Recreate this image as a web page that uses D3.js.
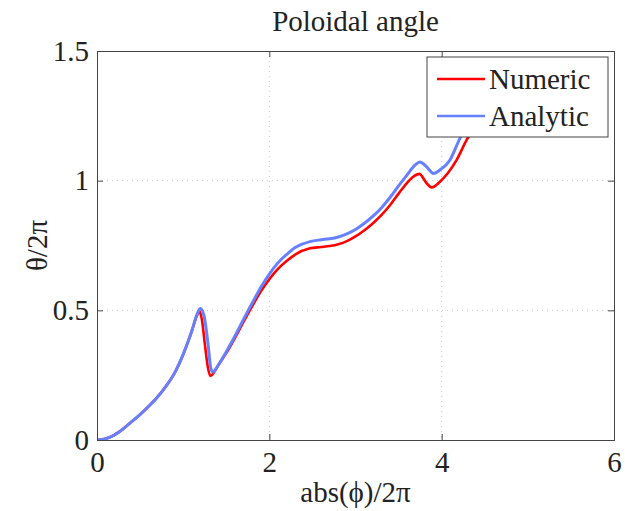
<!DOCTYPE html>
<html>
<head>
<meta charset="utf-8">
<script src="https://cdn.jsdelivr.net/npm/d3@7"></script>
<style>
body { margin: 0; background: #fff; }
</style>
</head>
<body>
<div id="chart"></div>
<script>
// values (x = abs(phi)/2pi, y = theta/2pi)
var numericX = [0, 0.1, 0.2, 0.3, 0.4, 0.5, 0.6, 0.7, 0.8, 0.9, 1.0, 1.1, 1.16, 1.19, 1.218, 1.253, 1.288, 1.317, 1.36, 1.42, 1.5, 1.6, 1.7, 1.8, 1.9, 2.0, 2.1, 2.2, 2.3, 2.472, 2.6, 2.7, 2.8, 2.9, 3.0, 3.1, 3.2, 3.3, 3.4, 3.5, 3.594, 3.67, 3.74, 3.826, 3.884, 3.98, 4.174, 4.29, 4.445, 4.677];
var numericY = [0, 0.005, 0.019, 0.042, 0.07, 0.098, 0.13, 0.165, 0.207, 0.258, 0.33, 0.42, 0.48, 0.496, 0.463, 0.366, 0.278, 0.247, 0.262, 0.295, 0.335, 0.393, 0.455, 0.515, 0.572, 0.62, 0.66, 0.69, 0.715, 0.739, 0.744, 0.748, 0.755, 0.767, 0.785, 0.808, 0.835, 0.867, 0.905, 0.95, 0.99, 1.015, 1.026, 0.99, 0.974, 0.996, 1.08, 1.157, 1.234, 1.33];

var analyticX = [0, 0.1, 0.2, 0.3, 0.4, 0.5, 0.6, 0.7, 0.8, 0.9, 1.0, 1.1, 1.16, 1.20, 1.24, 1.29, 1.32, 1.345, 1.40, 1.5, 1.6, 1.7, 1.8, 1.9, 2.0, 2.1, 2.2, 2.3, 2.472, 2.6, 2.7, 2.8, 2.9, 3.0, 3.1, 3.2, 3.3, 3.4, 3.5, 3.594, 3.69, 3.748, 3.826, 3.905, 3.98, 4.097, 4.193, 4.33, 4.56];
var analyticY = [0, 0.005, 0.019, 0.042, 0.07, 0.098, 0.13, 0.165, 0.207, 0.258, 0.33, 0.42, 0.484, 0.507, 0.482, 0.366, 0.278, 0.262, 0.285, 0.34, 0.40, 0.465, 0.527, 0.588, 0.64, 0.683, 0.715, 0.742, 0.765, 0.772, 0.776, 0.783, 0.795, 0.812, 0.835, 0.862, 0.895, 0.935, 0.98, 1.02, 1.06, 1.072, 1.053, 1.028, 1.041, 1.08, 1.150, 1.242, 1.342];

var xTicks = [0, 2, 4, 6];
var yTicks = [0, 0.5, 1, 1.5];

var serif = "Liberation Serif";
var width = 625, height = 511;
var margin = {top: 51, right: 11, bottom: 71, left: 97};
var w = width - margin.left - margin.right;
var h = height - margin.top - margin.bottom;

var svg = d3.select("#chart")
    .append("svg")
    .attr("width", width)
    .attr("height", height);

var g = svg.append("g")
    .attr("transform", "translate(" + margin.left + "," + margin.top + ")");

var x = d3.scaleLinear().domain([0, 6]).range([0, w]);
var y = d3.scaleLinear().domain([0, 1.5]).range([h, 0]);

// dotted grid
g.append("g")
    .selectAll("line")
    .data(xTicks.slice(1, -1))
    .enter()
    .append("line")
    .attr("x1", d => x(d)).attr("x2", d => x(d))
    .attr("y1", 0).attr("y2", h)
    .style("stroke", "#c8c8c8")
    .style("stroke-dasharray", "1,4");

g.append("g")
    .selectAll("line")
    .data(yTicks.slice(1, -1))
    .enter()
    .append("line")
    .attr("x1", 0).attr("x2", w)
    .attr("y1", d => y(d)).attr("y2", d => y(d))
    .style("stroke", "#c8c8c8")
    .style("stroke-dasharray", "1,4");

// curves
g.append("clipPath").attr("id", "clip")
    .append("rect").attr("width", w).attr("height", h);

var line = d3.line()
    .x(d => x(d[0]))
    .y(d => y(d[1]))
    .curve(d3.curveMonotoneX);

var numeric = d3.zip(numericX, numericY);
var analytic = d3.zip(analyticX, analyticY);

g.append("path")
    .datum(numeric)
    .attr("clip-path", "url(#clip)")
    .attr("d", line)
    .style("fill", "none")
    .style("stroke", "#ff0000")
    .style("stroke-width", 2.6);

g.append("path")
    .datum(analytic)
    .attr("clip-path", "url(#clip)")
    .attr("d", line)
    .style("fill", "none")
    .style("stroke", "#6680ff")
    .style("stroke-width", 3);

// axes, ticks inward
var xAxis = g.append("g")
    .attr("transform", "translate(0," + h + ")")
    .call(d3.axisBottom(x).tickValues(xTicks).tickSize(-6).tickPadding(11).tickFormat(d3.format("d")));
var yAxis = g.append("g")
    .call(d3.axisLeft(y).tickValues(yTicks).tickSize(-6).tickPadding(8).tickFormat(d => d));
g.append("g")
    .call(d3.axisTop(x).tickValues(xTicks).tickSize(-6).tickFormat(""));
g.append("g")
    .attr("transform", "translate(" + w + ",0)")
    .call(d3.axisRight(y).tickValues(yTicks).tickSize(-6).tickFormat(""));

g.selectAll(".domain").style("stroke", "#444");
g.selectAll(".tick line").style("stroke", "#444");
g.selectAll(".tick text")
    .style("font-family", serif)
    .style("font-size", "29px")
    .style("fill", "#222");
xAxis.selectAll(".tick text").attr("dy", "0.71em");

// legend
var legend = g.append("g").attr("transform", "translate(" + (w - 187) + ",6)");
legend.append("rect")
    .attr("width", 181).attr("height", 80)
    .style("fill", "#fff")
    .style("stroke", "#444");
var legendItems = [["Numeric", "#ff0000"], ["Analytic", "#6680ff"]];
legendItems.forEach(function(item, i) {
    var yy = 22 + i * 37;
    legend.append("line")
        .attr("x1", 10).attr("x2", 58)
        .attr("y1", yy).attr("y2", yy)
        .style("stroke", item[1])
        .style("stroke-width", 2.5);
    legend.append("text")
        .attr("x", 62).attr("y", yy + 10)
        .style("font-family", serif)
        .style("font-size", "29px")
        .style("fill", "#222")
        .text(item[0]);
});

// title and labels
svg.append("text")
    .attr("x", margin.left + w / 2).attr("y", 31)
    .attr("text-anchor", "middle")
    .style("font-family", serif)
    .style("font-size", "29px")
    .style("fill", "#222")
    .text("Poloidal angle");

svg.append("text")
    .attr("x", margin.left + w / 2).attr("y", 502)
    .attr("text-anchor", "middle")
    .style("font-family", serif)
    .style("font-size", "29px")
    .style("fill", "#222")
    .text("abs(ϕ)/2π");

svg.append("text")
    .attr("transform", "translate(47," + (margin.top + h / 2) + ") rotate(-90)")
    .attr("text-anchor", "middle")
    .style("font-family", serif)
    .style("font-size", "29px")
    .style("fill", "#222")
    .text("θ/2π");
</script>
</body>
</html>
